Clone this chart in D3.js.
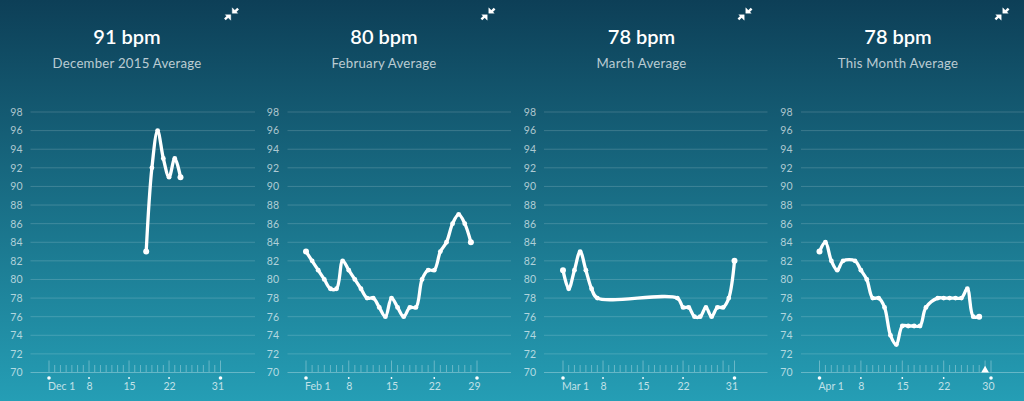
<!DOCTYPE html>
<html><head><meta charset="utf-8">
<script src="https://d3js.org/d3.v7.min.js"></script>
<style>html,body{margin:0;padding:0;background:#17667f;overflow:hidden}svg{display:block}text{font-family:Lato,"Open Sans",sans-serif}</style>
</head><body><svg id="c" width="1024" height="401"></svg>
<script>
// data
const titles = ["91 bpm","80 bpm","78 bpm","78 bpm"];
const subtitles = ["December 2015 Average","February Average","March Average","This Month Average"];
const yTicks = [70,72,74,76,78,80,82,84,86,88,90,92,94,96,98];
const monthLengths = [31,29,31,30];
const monthNames = ["Dec 1","Feb 1","Mar 1","Apr 1"];
const midDays = [8,15,22];
const decDays = [18,19,20,21,22,23,24];
const decValues = [83,92,96,93,91,93,91];
const febDays = [1,2,3,4,5,6,7,8,9,10,11,12,13,14,15,16,17,18,19,20,21,22,23,24,25,26,27,28];
const febValues = [83,82,81,80,79,79,82,81,80,79,78,78,77,76,78,77,76,77,77,80,81,81,83,84,86,87,86,84];
const marDays = [1,2,3,4,5,6,7,21,22,23,24,25,26,27,28,29,30,31];
const marValues = [81,79,81,83,81,79,78,78,77,77,76,76,77,76,77,77,78,82];
const aprDays = [1,2,3,4,5,7,8,9,10,11,12,13,14,15,16,17,18,19,21,22,23,24,25,26,27,28];
const aprValues = [83,84,82,81,82,82,81,80,78,78,77,74,73,75,75,75,75,77,78,78,78,78,78,79,76,76];
const todayDay = 29;

// layout
const W=1024,H=401;
const gridX=[[30.5,255],[287.5,511],[544,767.5],[801,1024]];
const dayX=[[49,220.5],[306,477],[563,734.5],[819.5,991]];
const titleX=[127,384,641.5,898];
const iconX=[231.5,488,745,1002];
const labelX=[16.5,273,530,786.5];
const series=[[decDays,decValues],[febDays,febValues],[marDays,marValues],[aprDays,aprValues]];

const svg=d3.select("#c");
const defs=svg.append("defs");
const grad=defs.append("linearGradient").attr("id","bg").attr("x1",0).attr("y1",0).attr("x2",0).attr("y2",1);
grad.append("stop").attr("offset",0).attr("stop-color","#0d3f57");
grad.append("stop").attr("offset",1).attr("stop-color","#259eb5");
svg.append("rect").attr("width",W).attr("height",H).attr("fill","url(#bg)");

const y=d3.scaleLinear().domain([70,98]).range([372.5,112]);

titles.forEach((t,i)=>{
  const g=svg.append("g");
  const x=d3.scaleLinear().domain([1,monthLengths[i]]).range(dayX[i]);
  g.append("text").attr("x",titleX[i]).attr("y",44).attr("text-anchor","middle")
    .attr("fill","#fff").attr("font-size",20).attr("font-weight",600).text(t);
  g.append("text").attr("x",titleX[i]).attr("y",68).attr("text-anchor","middle")
    .attr("fill","#fff").attr("fill-opacity",.72).attr("font-size",13.2).attr("letter-spacing",.25).text(subtitles[i]);

  // icon
  const ic=g.append("g").attr("transform",`translate(${iconX[i]},14) scale(1.2)`).attr("stroke","#fff").attr("fill","#fff");
  ic.append("path").attr("d","M-5.5,4.5L-2.5,1.5").attr("stroke-width",2);
  ic.append("path").attr("d","M-0.6,0.6V5.2L-5.2,0.6Z").attr("stroke-width",.3);
  ic.append("path").attr("d","M5.5,-4.5L2.5,-1.5").attr("stroke-width",2);
  ic.append("path").attr("d","M0.6,-0.6V-5.2L5.2,-0.6Z").attr("stroke-width",.3);

  // y axis + grid
  const ya=d3.axisLeft(y).tickValues(yTicks).tickSize(0).tickPadding(0);
  const yg=g.append("g").attr("transform",`translate(${labelX[i]+6},0)`).call(ya);
  yg.select(".domain").remove();
  yg.selectAll("text").attr("font-size",10.5).attr("fill","#fff").attr("fill-opacity",.66).attr("font-family","Lato");
  g.append("g").selectAll("line").data(yTicks).join("line")
    .attr("x1",gridX[i][0]).attr("x2",gridX[i][1]).attr("y1",d=>y(d)).attr("y2",d=>y(d))
    .attr("stroke","#fff").attr("stroke-opacity",d=>d===70?.3:.17).attr("stroke-width",1);

  // day ticks
  const days=d3.range(1,monthLengths[i]+1);
  const isLong=d=>(d-1)%7===0||d===monthLengths[i];
  g.append("g").selectAll("line").data(days).join("line")
    .attr("x1",d=>x(d)).attr("x2",d=>x(d)).attr("y1",372).attr("y2",d=>isLong(d)?360.5:365)
    .attr("stroke","#fff").attr("stroke-opacity",.32).attr("stroke-width",1);

  // marker dots below axis
  const last=monthLengths[i];
  g.append("g").selectAll("circle").data([1,...midDays,last]).join("circle")
    .attr("cx",d=>x(d)).attr("cy",378).attr("r",d=>(d===1||d===last)?1.8:.9).attr("fill","#fff");

  // x labels via axis
  const xa=d3.axisBottom(x).tickValues([1,...midDays,last]).tickSize(0).tickPadding(0)
    .tickFormat(d=>d===1?monthNames[i]:String(d));
  const xg=g.append("g").attr("transform","translate(0,383)").call(xa);
  xg.select(".domain").remove();
  xg.selectAll("text").attr("font-size",10.5).attr("fill","#fff").attr("fill-opacity",.72).attr("font-family","Lato")
    .attr("text-anchor",d=>d===1?"start":d===last?"end":"middle")
    .attr("dx",d=>d===1?-1.5:d===last?3:0);

  if(i===3){
    g.append("path").attr("d",d3.symbol(d3.symbolTriangle,26)()).attr("fill","#fff")
      .attr("transform",`translate(${x(todayDay)},370.2)`);
  }

  // line
  const [ds,vs]=series[i];
  const pts=ds.map((d,k)=>[x(d),y(vs[k])]);
  g.append("path").attr("d",d3.line().curve(d3.curveCatmullRom.alpha(0.5))(pts))
    .attr("fill","none").attr("stroke","#fff").attr("stroke-width",3.3).attr("stroke-linejoin","round");
  g.append("g").selectAll("circle").data(pts).join("circle")
    .attr("cx",d=>d[0]).attr("cy",d=>d[1]).attr("r",(d,k)=>(k===0||k===pts.length-1)?3:2.4).attr("fill","#fff");
});
</script></body></html>
